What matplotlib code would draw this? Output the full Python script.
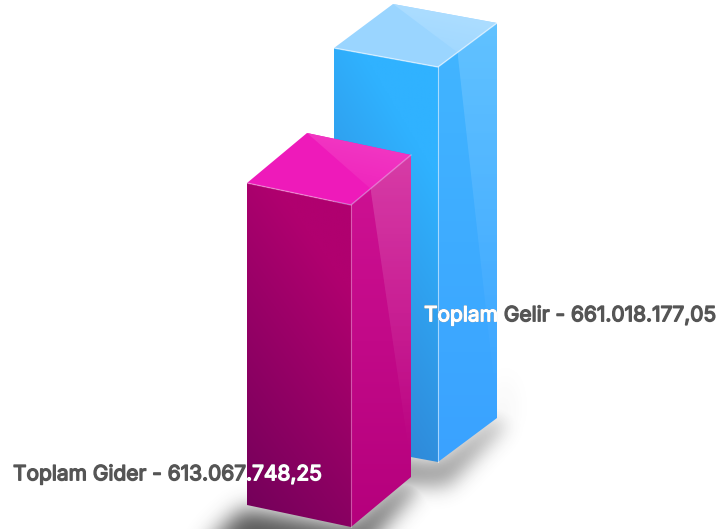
import numpy as np
import matplotlib
matplotlib.use("Agg")
import matplotlib.pyplot as plt
import matplotlib.patheffects as pe
from matplotlib.patches import Polygon
from matplotlib.path import Path
from matplotlib.colors import to_rgb

categories = ["Toplam Gider", "Toplam Gelir"]
values = [613067748.25, 661018177.05]
value_labels = ["613.067.748,25", "661.018.177,05"]

# layout (pixel space of the figure)
W, H = 718, 529
base_x = [247, 334]          # front-left x
base_y = [505, 443]          # front-left bottom y
FW = 104                     # front edge run
FD = [22, 19]                # front edge drop
SW = [60, 59]                # side edge run
SD = [-50, -44]              # side edge rise
# value -> bar height
PX_PER_UNIT = (395 - 322) / (values[1] - values[0])
ZERO = values[0] - 322 / PX_PER_UNIT

styles = [
    dict(front_a="#b0006f", front_b="#74005a", side_a="#cf1294", side_b="#b5007c",
         top="#ee1aba", top_l="#f23cc4", sheen=0.18, edge=0.32),
    dict(front_a="#30b2ff", front_b="#2f7ccc", side_a="#42b6ff", side_b="#3aa2ff",
         top="#9ad5ff", top_l="#b0dfff", sheen=0.17, edge=0.55),
]
label_xy = [(13, 474), (424, 315)]

fig = plt.figure(figsize=(W / 100, H / 100), dpi=100)
ax = fig.add_axes([0, 0, 1, 1])
ax.set_xlim(0, W)
ax.set_ylim(H, 0)
ax.axis("off")


def bar_geometry(i):
    h = (values[i] - ZERO) * PX_PER_UNIT
    x, y = base_x[i], base_y[i]
    fl_b = (x, y)
    fr_b = (x + FW, y + FD[i])
    sr_b = (x + FW + SW[i], y + FD[i] + SD[i])
    fl_t = (x, y - h)
    fr_t = (x + FW, y + FD[i] - h)
    sr_t = (x + FW + SW[i], y + FD[i] + SD[i] - h)
    bk_t = (x + SW[i], y + SD[i] - h)
    return fl_b, fr_b, sr_b, fl_t, fr_t, sr_t, bk_t


def gradient(poly, c_a, c_b, direction, alpha_a=1.0, alpha_b=1.0, zorder=2):
    """Fill polygon with a linear gradient running from c_a to c_b."""
    pts = np.array(poly, float)
    x0, y0 = pts.min(0)
    x1, y1 = pts.max(0)
    yy, xx = np.mgrid[0:1:160j, 0:1:160j]
    t = np.clip(direction[0] * xx + direction[1] * yy + direction[2], 0, 1)[..., None]
    a, b = np.array(to_rgb(c_a)), np.array(to_rgb(c_b))
    rgb = a * (1 - t) + b * t
    al = alpha_a * (1 - t) + alpha_b * t
    im = ax.imshow(np.dstack([rgb, al]), extent=(x0, x1, y1, y0), origin="upper",
                   interpolation="bilinear", zorder=zorder, aspect="auto")
    im.set_clip_path(Polygon(pts, closed=True, transform=ax.transData))
    ax.set_xlim(0, W)
    ax.set_ylim(H, 0)
    return im


def blur(a, s):
    r = int(3 * s)
    k = np.exp(-0.5 * (np.arange(-r, r + 1) / s) ** 2)
    k /= k.sum()
    a = np.apply_along_axis(lambda m: np.convolve(m, k, mode="same"), 0, a)
    return np.apply_along_axis(lambda m: np.convolve(m, k, mode="same"), 1, a)


# soft shadow cast on the ground by both bars
pad = 60
yy, xx = np.mgrid[0:H + pad, 0:W]
grid = np.c_[xx.ravel() + .5, yy.ravel() + .5]
shadow = np.zeros(xx.shape)
for i in range(2):
    fl_b, fr_b, sr_b, *_ = bar_geometry(i)
    s1 = Path([(fl_b[0] - 4, fl_b[1] + 4), fr_b, sr_b, (sr_b[0] + 8, sr_b[1] + 6),
               (fr_b[0] + 10, fr_b[1] + 24), (fl_b[0] - 45, fl_b[1] + 44)])
    m = s1.contains_points(grid).reshape(xx.shape).astype(float)
    shadow = np.maximum(shadow, blur(m, 11 if i == 0 else 10) * (0.85 if i == 0 else 0.5))
    s2 = Path([sr_b, (sr_b[0] + 10, sr_b[1] - 50), (sr_b[0] + 10, sr_b[1] + 4), fr_b])
    m = s2.contains_points(grid).reshape(xx.shape).astype(float)
    shadow = np.maximum(shadow, blur(m, 12) * 0.12)
rgba = np.zeros(shadow.shape + (4,))
rgba[..., :3] = 0.2
rgba[..., 3] = shadow
ax.imshow(rgba, extent=(0, W, H + pad, 0), origin="upper", zorder=1,
          interpolation="bilinear", aspect="auto")
ax.set_xlim(0, W)
ax.set_ylim(H, 0)

outlines = {}
for i in [1, 0]:
    st = styles[i]
    z = 2 + (1 - i) * 3
    fl_b, fr_b, sr_b, fl_t, fr_t, sr_t, bk_t = bar_geometry(i)
    gradient([fl_t, fr_t, fr_b, fl_b], st["front_a"], st["front_b"], (-0.4, 0.95, 0.1), zorder=z)
    gradient([fr_t, sr_t, sr_b, fr_b], st["side_a"], st["side_b"], (0, 1, 0), zorder=z)
    # glossy sheen on the side face
    sx = fr_t[0] + 19.5
    sy = fr_t[1] + SD[i] * 19.5 / SW[i]
    gradient([(sx, sy), sr_t, (sr_b[0], sr_b[1] - 20), (sr_b[0] - 1, sr_b[1] - 18)],
             "#ffffff", "#ffffff", (0, 1, 0), alpha_a=st["sheen"], alpha_b=0.0, zorder=z)
    ax.add_patch(Polygon([fl_t, fr_t, sr_t, bk_t], closed=True, fc=st["top"], ec="none", zorder=z))
    gradient([bk_t, sr_t, (sx, sy)], st["top_l"], st["top"], (-0.25, 0.6, 0.2), zorder=z)
    ax.plot([fl_t[0], fr_t[0], sr_t[0]], [fl_t[1], fr_t[1], sr_t[1]], color="white",
            alpha=st["edge"], lw=1.0, zorder=z + .1)
    ax.plot([fr_t[0], fr_b[0]], [fr_t[1], fr_b[1]], color="white",
            alpha=st["edge"], lw=0.8, zorder=z + .1)
    outlines[i] = [fl_t, bk_t, sr_t, sr_b, fr_b, fl_b]

font = dict(family=["Inter", "DejaVu Sans"], fontsize=15.05, va="center", ha="left")
for i in range(2):
    s = f"{categories[i]} - {value_labels[i]}"
    x, y = label_xy[i]
    ax.text(x, y, s, color="#555555", zorder=10, **font,
            path_effects=[pe.withStroke(linewidth=1.0, foreground="#555555")])
    t = ax.text(x, y, s, color="white", zorder=11, **font,
                path_effects=[pe.withStroke(linewidth=1.0, foreground="white")])
    t.set_clip_on(True)
    t.set_clip_path(Polygon(outlines[i], closed=True, transform=ax.transData))

fig.savefig("out.png", dpi=100)
